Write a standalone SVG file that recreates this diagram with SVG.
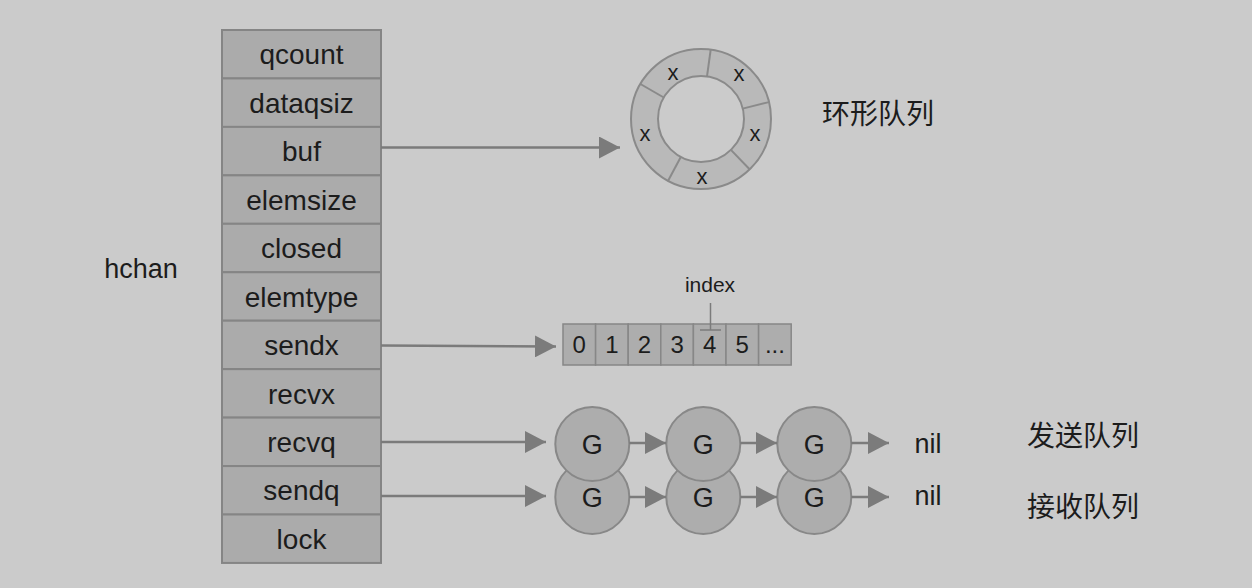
<svg xmlns="http://www.w3.org/2000/svg" width="1252" height="588" viewBox="0 0 1252 588">
  <defs>
    <marker id="ah" markerUnits="userSpaceOnUse" markerWidth="22" markerHeight="22" viewBox="0 0 22 22" refX="21" refY="11" orient="auto">
      <path d="M0,0 L21,11 L0,22 Z" fill="#7b7b7b"/>
    </marker>
    <style>
      .t { font-family: "Liberation Sans", Arial, sans-serif; fill: #1c1c1c; text-anchor: middle; }
      .cjk { font-family: "Noto Sans CJK SC", sans-serif; fill: #1c1c1c; font-size: 28px; }
      .row rect { fill: #ababab; stroke: #858585; stroke-width: 2; }
      .row text { font-size: 28px; }
      .cell { fill: #adadad; stroke: #878787; stroke-width: 1.5; }
      .g circle { fill: #adadad; stroke: #888888; stroke-width: 2; }
      .g text { font-size: 27px; }
      .conn line { stroke: #7b7b7b; stroke-width: 2.5; fill: none; }
      .ring { fill: #b9b9b9; stroke: #8a8a8a; stroke-width: 2; }
    </style>
  </defs>
  <rect x="0" y="0" width="1252" height="588" fill="#cbcbcb"/>

  <g id="hchan-label"><text class="t" x="141" y="278" font-size="27">hchan</text></g>

  <g id="hchan">
    <g class="row" id="f-qcount"><rect x="222" y="30" width="159" height="48.45"/><text class="t" x="301.5" y="64">qcount</text></g>
    <g class="row" id="f-dataqsiz"><rect x="222" y="78.45" width="159" height="48.45"/><text class="t" x="301.5" y="112.5">dataqsiz</text></g>
    <g class="row" id="f-buf"><rect x="222" y="126.9" width="159" height="48.45"/><text class="t" x="301.5" y="161">buf</text></g>
    <g class="row" id="f-elemsize"><rect x="222" y="175.35" width="159" height="48.45"/><text class="t" x="301.5" y="209.5">elemsize</text></g>
    <g class="row" id="f-closed"><rect x="222" y="223.8" width="159" height="48.45"/><text class="t" x="301.5" y="258">closed</text></g>
    <g class="row" id="f-elemtype"><rect x="222" y="272.25" width="159" height="48.45"/><text class="t" x="301.5" y="306.5">elemtype</text></g>
    <g class="row" id="f-sendx"><rect x="222" y="320.7" width="159" height="48.45"/><text class="t" x="301.5" y="355">sendx</text></g>
    <g class="row" id="f-recvx"><rect x="222" y="369.15" width="159" height="48.45"/><text class="t" x="301.5" y="403.5">recvx</text></g>
    <g class="row" id="f-recvq"><rect x="222" y="417.6" width="159" height="48.45"/><text class="t" x="301.5" y="452">recvq</text></g>
    <g class="row" id="f-sendq"><rect x="222" y="466.05" width="159" height="48.45"/><text class="t" x="301.5" y="500">sendq</text></g>
    <g class="row" id="f-lock"><rect x="222" y="514.5" width="159" height="48.45"/><text class="t" x="301.5" y="548.5">lock</text></g>
  </g>

  <g id="ring-buffer">
    <circle class="ring" cx="701" cy="119" r="70"/>
    <circle cx="701" cy="119" r="43" fill="#cbcbcb" stroke="#8a8a8a" stroke-width="2"/>
    <g stroke="#8a8a8a" stroke-width="2">
      <line x1="707" y1="76.4" x2="710.7" y2="49.7"/>
      <line x1="663.8" y1="97.5" x2="640.4" y2="84"/>
      <line x1="742.7" y1="108.6" x2="768.9" y2="102.1"/>
      <line x1="730.9" y1="149.9" x2="749.6" y2="169.3"/>
      <line x1="680.8" y1="157" x2="668.1" y2="180.8"/>
    </g>
    <g font-size="22">
      <text class="t" x="673" y="80">x</text>
      <text class="t" x="739" y="81">x</text>
      <text class="t" x="645" y="141">x</text>
      <text class="t" x="755" y="141">x</text>
      <text class="t" x="702" y="184">x</text>
    </g>
  </g>
  <g id="ring-label"><text class="cjk" x="822" y="124">环形队列</text></g>

  <g id="array">
    <rect class="cell" x="563" y="324" width="32.6" height="41"/>
    <rect class="cell" x="595.6" y="324" width="32.6" height="41"/>
    <rect class="cell" x="628.2" y="324" width="32.6" height="41"/>
    <rect class="cell" x="660.8" y="324" width="32.6" height="41"/>
    <rect class="cell" x="693.4" y="324" width="32.6" height="41"/>
    <rect class="cell" x="726" y="324" width="32.6" height="41"/>
    <rect class="cell" x="758.6" y="324" width="32.6" height="41"/>
    <g font-size="24">
      <text class="t" x="579.3" y="353">0</text>
      <text class="t" x="611.9" y="353">1</text>
      <text class="t" x="644.5" y="353">2</text>
      <text class="t" x="677.1" y="353">3</text>
      <text class="t" x="709.7" y="353">4</text>
      <text class="t" x="742.3" y="353">5</text>
      <text class="t" x="774.9" y="353">...</text>
    </g>
    <text class="t" x="710" y="292" font-size="21">index</text>
    <line x1="710.5" y1="303" x2="710.5" y2="330" stroke="#7b7b7b" stroke-width="1.5"/>
    <line x1="700" y1="330" x2="721" y2="330" stroke="#7b7b7b" stroke-width="1.5"/>
  </g>

  <g id="sendq-list">
    <g class="g" id="sg1"><circle cx="592.3" cy="497" r="37"/><text class="t" x="592.3" y="507">G</text></g>
    <g class="g" id="sg2"><circle cx="703.3" cy="497" r="37"/><text class="t" x="703.3" y="507">G</text></g>
    <g class="g" id="sg3"><circle cx="814.3" cy="497" r="37"/><text class="t" x="814.3" y="507">G</text></g>
  </g>
  <g id="recvq-list">
    <g class="g" id="rg1"><circle cx="592.3" cy="444" r="37"/><text class="t" x="592.3" y="454">G</text></g>
    <g class="g" id="rg2"><circle cx="703.3" cy="444" r="37"/><text class="t" x="703.3" y="454">G</text></g>
    <g class="g" id="rg3"><circle cx="814.3" cy="444" r="37"/><text class="t" x="814.3" y="454">G</text></g>
  </g>
  <g id="nil-1"><text class="t" x="928" y="453" font-size="27">nil</text></g>
  <g id="nil-2"><text class="t" x="928" y="505" font-size="27">nil</text></g>
  <g id="send-label"><text class="cjk" x="1027" y="446">发送队列</text></g>
  <g id="recv-label"><text class="cjk" x="1027" y="517">接收队列</text></g>

  <g class="conn" id="connectors">
    <line x1="381" y1="147.5" x2="620" y2="147.5" marker-end="url(#ah)"/>
    <line x1="381" y1="345.5" x2="556" y2="346.5" marker-end="url(#ah)"/>
    <line x1="381" y1="442" x2="546" y2="442" marker-end="url(#ah)"/>
    <line x1="381" y1="496" x2="546" y2="496" marker-end="url(#ah)"/>
    <line x1="629.3" y1="443" x2="666" y2="443" marker-end="url(#ah)"/>
    <line x1="740.3" y1="443" x2="777" y2="443" marker-end="url(#ah)"/>
    <line x1="851.3" y1="443" x2="889" y2="443" marker-end="url(#ah)"/>
    <line x1="629.3" y1="497" x2="666" y2="497" marker-end="url(#ah)"/>
    <line x1="740.3" y1="497" x2="777" y2="497" marker-end="url(#ah)"/>
    <line x1="851.3" y1="497" x2="889" y2="497" marker-end="url(#ah)"/>
  </g>
</svg>
